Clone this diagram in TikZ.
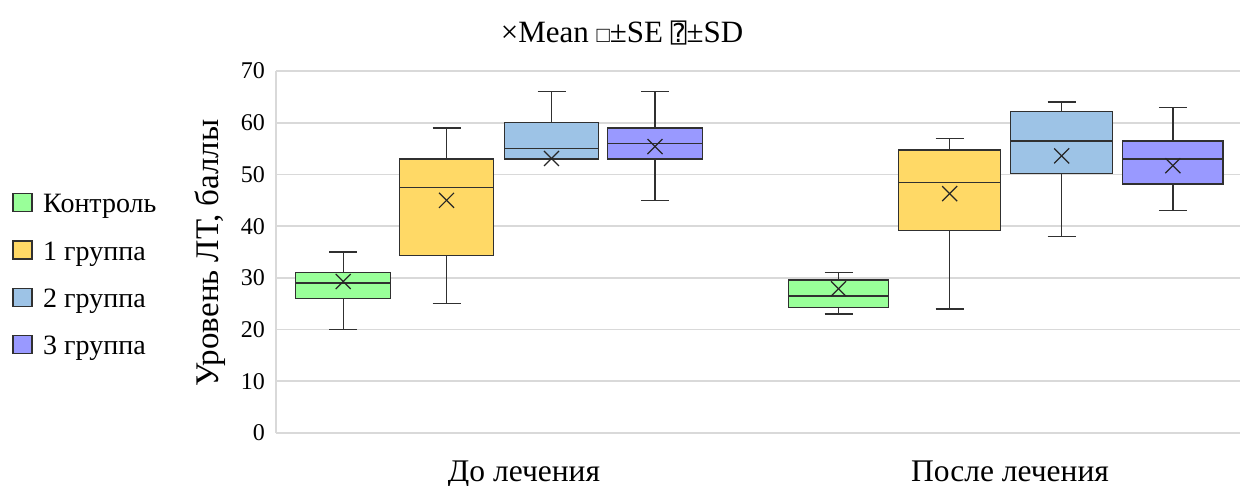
\documentclass[tikz,border=0pt]{standalone}
\usepackage{fontspec}
\setmainfont{Liberation Serif}
\newfontfamily\dvm{DejaVu Sans Mono}
\definecolor{cgreen}{HTML}{99FF99}
\definecolor{cyellow}{HTML}{FFD966}
\definecolor{cblue}{HTML}{9DC3E6}
\definecolor{cpurple}{HTML}{9999FF}
\definecolor{gridc}{HTML}{D9D9D9}
\definecolor{edge}{HTML}{303030}
\tikzset{
  gridline/.style={draw=gridc, line width=1.6pt},
  boxedge/.style={draw=edge, line width=1.4pt},
  whisk/.style={draw=edge, line width=1.3pt},
  meanx/.style={draw=black!85, line width=1.2pt},
  ticklbl/.style={anchor=east, font=\fontsize{24}{24}\selectfont, inner sep=0pt},
  leglbl/.style={anchor=base west, font=\fontsize{28}{28}\selectfont, inner sep=0pt},
  catlbl/.style={anchor=base, font=\fontsize{31.5}{31.5}\selectfont, inner sep=0pt},
}
% args: x1, x2, low, q1, median, q3, high, mean, colour
\newcommand\bxplot[9]{%
  \pgfmathsetmacro\xc{(#1+#2)/2}
  \draw[whisk] (\xc,{433-5.17*#6}) -- (\xc,{433-5.17*#7});
  \draw[whisk] (\xc-14,{433-5.17*#7}) -- (\xc+14,{433-5.17*#7});
  \draw[whisk] (\xc,{433-5.17*#4}) -- (\xc,{433-5.17*#3});
  \draw[whisk] (\xc-14,{433-5.17*#3}) -- (\xc+14,{433-5.17*#3});
  \draw[boxedge, fill=#9] (#1,{433-5.17*#4}) rectangle (#2,{433-5.17*#6});
  \draw[boxedge] (#1,{433-5.17*#5}) -- (#2,{433-5.17*#5});
  \draw[meanx] (\xc-7.5,{433-5.17*#8-7.5}) -- (\xc+7.5,{433-5.17*#8+7.5});
  \draw[meanx] (\xc-7.5,{433-5.17*#8+7.5}) -- (\xc+7.5,{433-5.17*#8-7.5});
}
\begin{document}
\begin{tikzpicture}[x=1pt,y=-1pt]
\useasboundingbox (0,0) rectangle (1243,486);
% grid
\foreach \v/\l in {0/0,1/10,2/20,3/30,4/40,5/50,6/60,7/70}{
  \draw[gridline] (276,{433-51.7*\v}) -- (1240,{433-51.7*\v});
  \node[ticklbl] (t\v) at (265,{433-51.7*\v}) {\l};
}
\draw[gridline] (276,71) -- (276,433);
% title
\node[anchor=base, font=\fontsize{31}{31}\selectfont, inner sep=0pt] (title) at (622,43) {×Mean {\fontsize{22}{22}\selectfont □}±SE {\dvm\fontsize{26}{26}\selectfont ⍰}±SD};
% y label
\node[rotate=90, anchor=base, font=\fontsize{33}{33}\selectfont, inner sep=0pt] (ylab) at (218,253) {Уровень ЛТ, баллы};
% categories
\node[catlbl] (c1) at (524,481) {До лечения};
\node[catlbl] (c2) at (1010,481) {После лечения};
% boxes group 1
\bxplot{295.7}{390.7}{20}{26}{29}{31}{35}{29.3}{cgreen}
\bxplot{399.7}{493.3}{25}{34.3}{47.5}{53}{59}{45}{cyellow}
\bxplot{504.7}{598.3}{53}{53}{55}{60}{66}{53.1}{cblue}
\bxplot{607.3}{702.7}{45}{53}{56}{59}{66}{55.4}{cpurple}
% boxes group 2
\bxplot{788.3}{888.7}{23}{24.3}{26.5}{29.6}{31}{27.9}{cgreen}
\bxplot{898.7}{1000.7}{24}{39.2}{48.5}{54.7}{57}{46.3}{cyellow}
\bxplot{1010.7}{1112.7}{38}{50.2}{56.5}{62.2}{64}{53.6}{cblue}
\bxplot{1122.7}{1223}{43}{48.2}{53}{56.5}{63}{51.7}{cpurple}
% legend
\foreach \c/\yy/\t [count=\i] in {cgreen/202.5/Контроль, cyellow/250/1 группа, cblue/297.5/2 группа, cpurple/344.3/3 группа}{
  \draw[boxedge, line width=1.1pt, fill=\c] (13,\yy-9) rectangle (32,\yy+9);
  \node[leglbl] (l\i) at (43,\yy+10.5) {\t};
}
\end{tikzpicture}
\end{document}
